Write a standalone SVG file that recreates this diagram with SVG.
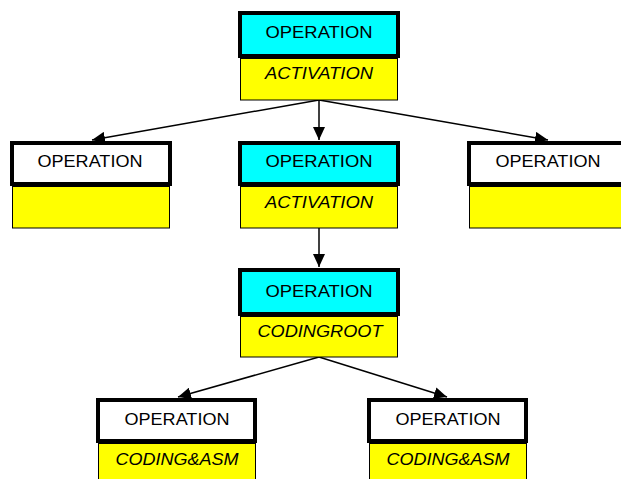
<svg xmlns="http://www.w3.org/2000/svg" width="621" height="479" viewBox="0 0 621 479">
<style>
.hd{stroke:#000;stroke-width:4}
.cy{fill:#00ffff}
.wh{fill:#fff}
.yl{fill:#ffff00;stroke:#000;stroke-width:1}
.t{font-family:"Liberation Sans",Arial,sans-serif;font-size:16.5px;fill:#000;text-anchor:middle}
.i{font-style:italic}
.c{stroke:#000;stroke-width:1.5;fill:none;marker-end:url(#ah)}
</style>
<defs>
<marker id="ah" markerWidth="14" markerHeight="12" refX="13" refY="6" orient="auto" markerUnits="userSpaceOnUse">
<path d="M0,0 L13,6 L0,12 Z" fill="#000"/>
</marker>
</defs>
<rect width="621" height="479" fill="#fff"/>
<g id="connectors">
<line class="c" x1="319" y1="100" x2="92" y2="140"/>
<line class="c" x1="319" y1="100" x2="319" y2="140"/>
<line class="c" x1="319" y1="100" x2="548" y2="140"/>
<line class="c" x1="319" y1="228" x2="319" y2="267"/>
<line class="c" x1="319" y1="357" x2="178" y2="397"/>
<line class="c" x1="319" y1="357" x2="447" y2="397"/>
</g>
<g id="n-top">
<rect class="yl" x="240.5" y="58.5" width="157" height="41.5"/>
<rect class="hd cy" x="240" y="13" width="158" height="43"/>
<text class="t" x="319" y="38" textLength="107" lengthAdjust="spacingAndGlyphs">OPERATION</text>
<text class="t i" x="319" y="79" textLength="108" lengthAdjust="spacingAndGlyphs">ACTIVATION</text>
</g>
<g id="n-left">
<rect class="yl" x="12.5" y="186.5" width="157" height="41.5"/>
<rect class="hd wh" x="12" y="143" width="158" height="41"/>
<text class="t" x="90" y="167" textLength="105" lengthAdjust="spacingAndGlyphs">OPERATION</text>
</g>
<g id="n-mid">
<rect class="yl" x="240.5" y="186.5" width="157" height="41.5"/>
<rect class="hd cy" x="240" y="143" width="158" height="41"/>
<text class="t" x="319" y="167" textLength="107" lengthAdjust="spacingAndGlyphs">OPERATION</text>
<text class="t i" x="319" y="208" textLength="108" lengthAdjust="spacingAndGlyphs">ACTIVATION</text>
</g>
<g id="n-right">
<rect class="yl" x="469.5" y="186.5" width="157" height="41.5"/>
<rect class="hd wh" x="469" y="143" width="158" height="41"/>
<text class="t" x="548" y="167" textLength="105" lengthAdjust="spacingAndGlyphs">OPERATION</text>
</g>
<g id="n-root">
<rect class="yl" x="240.5" y="316.5" width="157" height="40.5"/>
<rect class="hd cy" x="240" y="270" width="158" height="44"/>
<text class="t" x="319" y="297" textLength="107" lengthAdjust="spacingAndGlyphs">OPERATION</text>
<text class="t i" x="320" y="337" textLength="125" lengthAdjust="spacingAndGlyphs">CODINGROOT</text>
</g>
<g id="n-bl">
<rect class="yl" x="98.5" y="443.5" width="157" height="45"/>
<rect class="hd wh" x="98" y="400" width="157" height="41"/>
<text class="t" x="177" y="425" textLength="105" lengthAdjust="spacingAndGlyphs">OPERATION</text>
<text class="t i" x="177" y="465" textLength="123" lengthAdjust="spacingAndGlyphs">CODING&amp;ASM</text>
</g>
<g id="n-br">
<rect class="yl" x="369.5" y="443.5" width="157" height="45"/>
<rect class="hd wh" x="369" y="400" width="157" height="41"/>
<text class="t" x="448" y="425" textLength="105" lengthAdjust="spacingAndGlyphs">OPERATION</text>
<text class="t i" x="448" y="465" textLength="123" lengthAdjust="spacingAndGlyphs">CODING&amp;ASM</text>
</g>
</svg>
